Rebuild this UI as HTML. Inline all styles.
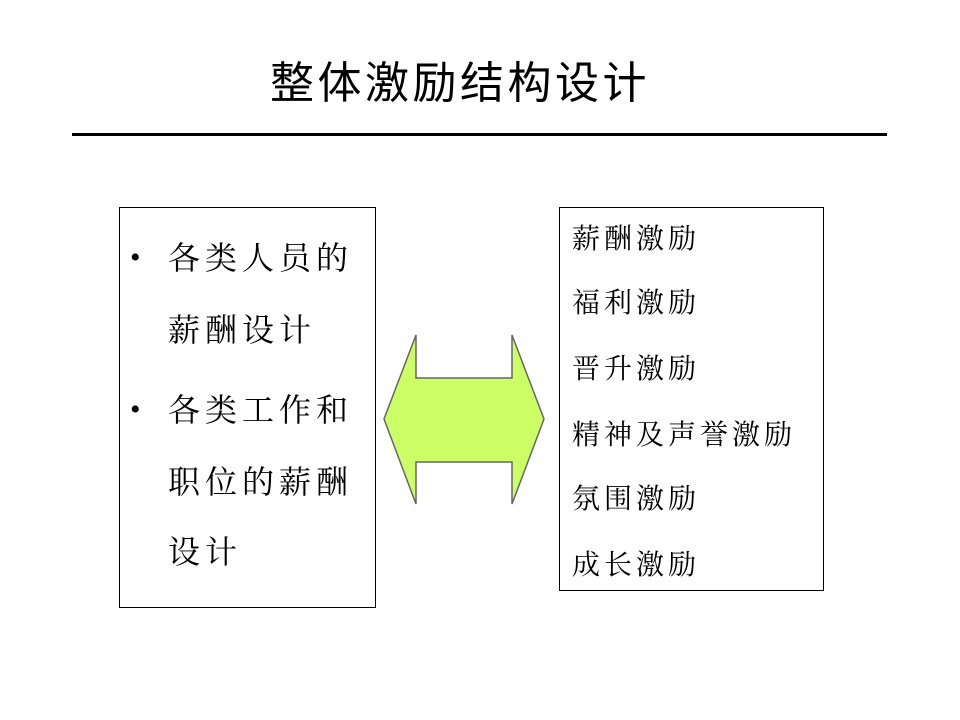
<!DOCTYPE html>
<html><head><meta charset="utf-8"><style>
body{margin:0;width:960px;height:720px;background:#fff;position:relative;overflow:hidden;font-family:"Liberation Serif","Noto Serif CJK SC","Noto Sans CJK SC",serif;color:#000}
.t{position:absolute;white-space:nowrap;line-height:1}
.l{font-size:32px;letter-spacing:5px}
.r{font-size:28px;letter-spacing:4px}
</style></head><body>
<div class="t" style="left:270px;top:62px;font-size:44px;letter-spacing:3.5px;font-family:'Liberation Sans','Noto Sans CJK SC',sans-serif">整体激励结构设计</div>
<div style="position:absolute;left:72px;top:133px;width:815px;height:3px;background:#000"></div>
<div style="position:absolute;left:119px;top:207px;width:255px;height:399px;border:1px solid #000"></div>
<div style="position:absolute;left:559px;top:207px;width:263px;height:382px;border:1px solid #000"></div>
<div class="t" style="left:130px;top:243px;font-size:30px">•</div>
<div class="t l" style="left:168px;top:242px">各类人员的</div>
<div class="t l" style="left:168px;top:314px">薪酬设计</div>
<div class="t" style="left:130px;top:395px;font-size:30px">•</div>
<div class="t l" style="left:168px;top:394px">各类工作和</div>
<div class="t l" style="left:168px;top:466px">职位的薪酬</div>
<div class="t l" style="left:168px;top:536px">设计</div>
<div class="t r" style="left:572px;top:226px">薪酬激励</div>
<div class="t r" style="left:572px;top:290px">福利激励</div>
<div class="t r" style="left:572px;top:356px">晋升激励</div>
<div class="t r" style="left:572px;top:422px">精神及声誉激励</div>
<div class="t r" style="left:572px;top:486px">氛围激励</div>
<div class="t r" style="left:572px;top:552px">成长激励</div>
<svg style="position:absolute;left:0;top:0" width="960" height="720">
<polygon points="384,419 416,335 416,378 512,378 512,335 544,419 512,504 512,462 416,462 416,504" fill="#ccff66" stroke="#666" stroke-width="1.5"/>
</svg>
</body></html>
